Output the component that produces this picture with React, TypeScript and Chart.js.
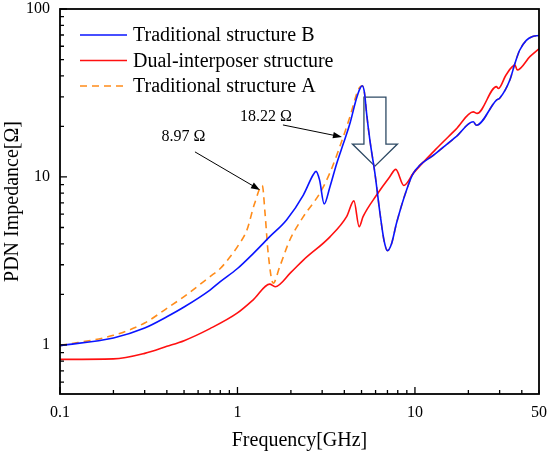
// @ts-nocheck
import React, { useEffect, useRef } from "react";
import Chart from "chart.js/auto";

const FONT = "'Liberation Serif', 'Times New Roman', serif";

// Traditional structure B
const blueFreq = [0.1, 0.2, 0.3, 0.4, 0.5, 0.7, 0.8, 1.0, 1.23, 1.52, 1.89, 2.35, 2.67, 2.77, 2.9, 3.08, 3.32, 3.62, 3.95, 4.3, 4.69, 4.9, 5.05, 5.2, 5.34, 5.57, 5.95, 6.35, 6.69, 7.0, 7.39, 7.87, 8.98, 9.78, 13, 17, 21.3, 22.2, 28.8, 30, 34.3, 36.6, 38.9, 42.4, 46, 50];
const blueImp = [0.99, 1.1, 1.26, 1.47, 1.68, 2.12, 2.38, 2.85, 3.51, 4.41, 5.55, 7.8, 10.3, 10.8, 9.6, 6.9, 8.75, 12.0, 15.8, 20.8, 29.5, 33.6, 34.9, 31.5, 23.9, 16.6, 10.5, 6.1, 4.2, 3.64, 4.02, 5.3, 8.4, 10.5, 13.7, 17.3, 21.3, 20.3, 28.7, 29.4, 37.9, 47.5, 56.8, 65, 68.5, 69.5];

// Dual-interposer structure
const redFreq = [0.1, 0.2, 0.3, 0.4, 0.5, 0.7, 1.0, 1.23, 1.52, 1.63, 2.0, 2.35, 3.32, 4.12, 4.53, 4.85, 5.1, 6.08, 7.2, 7.8, 8.66, 9.78, 13, 17, 21.3, 22.4, 28.8, 29.5, 32.6, 36.6, 37.7, 44.4, 50];
const redImp = [0.82, 0.825, 0.89, 0.98, 1.06, 1.25, 1.55, 1.86, 2.3, 2.22, 2.7, 3.2, 4.4, 5.8, 7.2, 5.06, 5.8, 7.8, 10.0, 11.1, 8.9, 10.5, 14.5, 19.2, 24.4, 23.9, 34.5, 33.6, 40.5, 46.3, 43.3, 52, 58];

// Traditional structure A (runs under B above ~5 GHz)
const orangeFreq = [0.1, 0.2, 0.3, 0.4, 0.5, 0.7, 0.8, 0.9, 1.0, 1.13, 1.25, 1.38, 1.43, 1.49, 1.59, 1.73, 1.97, 2.35, 2.91, 3.32, 3.95, 4.3, 4.79, 5.05, 5.2, 5.34, 5.57, 5.95, 6.35, 6.69, 7.0, 7.39, 7.87, 8.98, 9.78, 13, 17, 21.3, 22.2, 28.8, 30, 34.3, 36.6, 38.9, 42.4, 46, 50];
const orangeImp = [0.99, 1.14, 1.35, 1.65, 1.94, 2.55, 2.85, 3.3, 3.85, 4.83, 6.97, 8.9, 6.07, 3.5, 2.33, 2.92, 4.2, 5.8, 8.0, 10.6, 17.4, 22.8, 33, 34.9, 31.5, 23.9, 16.6, 10.5, 6.1, 4.2, 3.64, 4.02, 5.3, 8.4, 10.5, 13.7, 17.3, 21.3, 20.3, 28.7, 29.4, 37.9, 47.5, 56.8, 65, 68.5, 69.5];

const xTicks = [0.1, 0.2, 0.3, 0.4, 0.5, 0.6, 0.7, 0.8, 0.9, 1, 2, 3, 4, 5, 6, 7, 8, 9, 10, 20, 30, 40, 50];
const yTicks = [0.6, 0.7, 0.8, 0.9, 1, 2, 3, 4, 5, 6, 7, 8, 9, 10, 20, 30, 40, 50, 60, 70, 80, 90, 100];
const xLabels = [0.1, 1, 10, 50];
const yLabels = [1, 10, 100];

// annotations in data space: [freq, impedance]
const note1Text = "8.97 Ω";
const note1At = [0.496, 17.3];
const arrow1 = [[0.576, 14.1], [1.339, 8.37]];
const note2Text = "18.22 Ω";
const note2At = [1.447, 22.8];
const arrow2 = [[1.804, 20.4], [3.88, 17.3]];
const bigArrow = { freq: 5.95, top: 29.9, head: 15.7, tip: 11.6 };

const series = [
    { label: "Traditional structure B", color: "#0a14ff", dash: [], freq: blueFreq, imp: blueImp },
    { label: "Dual-interposer structure", color: "#ff1010", dash: [], freq: redFreq, imp: redImp },
    { label: "Traditional structure A", color: "#ff8c1a", dash: [7, 5], freq: orangeFreq, imp: orangeImp },
];

const isDecade = (v) => Math.abs(Math.log10(v) - Math.round(Math.log10(v))) < 1e-6;

const noPad = (s) => {
    s.paddingTop = 0;
    s.paddingBottom = 0;
    s.paddingLeft = 0;
    s.paddingRight = 0;
};

const framePlugin = {
    id: "frame",
    beforeDatasetsDraw(chart) {
        const { ctx, scales: { x, y } } = chart;
        const cx = x.getPixelForValue(bigArrow.freq);
        const top = y.getPixelForValue(bigArrow.top);
        const head = y.getPixelForValue(bigArrow.head);
        const tip = y.getPixelForValue(bigArrow.tip);
        ctx.save();
        ctx.strokeStyle = "#2e4a64";
        ctx.lineWidth = 1.3;
        ctx.beginPath();
        ctx.moveTo(cx - 11, top);
        ctx.lineTo(cx + 11, top);
        ctx.lineTo(cx + 11, head);
        ctx.lineTo(cx + 22.5, head);
        ctx.lineTo(cx, tip);
        ctx.lineTo(cx - 22.5, head);
        ctx.lineTo(cx - 11, head);
        ctx.closePath();
        ctx.stroke();
        ctx.restore();
    },
    afterDraw(chart) {
        const { ctx, chartArea: a, scales: { x, y } } = chart;
        ctx.save();
        // ticks pointing inward
        ctx.strokeStyle = "#000";
        ctx.lineWidth = 1.3;
        ctx.beginPath();
        xTicks.forEach((v) => {
            const px = x.getPixelForValue(v);
            const len = isDecade(v) ? 7 : 4;
            ctx.moveTo(px, a.bottom);
            ctx.lineTo(px, a.bottom - len);
        });
        yTicks.forEach((v) => {
            const py = y.getPixelForValue(v);
            const len = isDecade(v) ? 7 : 4;
            ctx.moveTo(a.left, py);
            ctx.lineTo(a.left + len, py);
        });
        ctx.stroke();
        // frame
        ctx.lineWidth = 1.8;
        ctx.strokeRect(a.left, a.top, a.right - a.left, a.bottom - a.top);

        // legend
        ctx.font = `20px ${FONT}`;
        ctx.textBaseline = "middle";
        ctx.textAlign = "left";
        series.forEach((s, i) => {
            const ly = a.top + 26 + i * 25.5;
            ctx.strokeStyle = s.color;
            ctx.lineWidth = 1.6;
            ctx.setLineDash(s.dash);
            ctx.beginPath();
            ctx.moveTo(a.left + 20, ly);
            ctx.lineTo(a.left + 67, ly);
            ctx.stroke();
            ctx.setLineDash([]);
            ctx.fillStyle = "#000";
            ctx.fillText(s.label, a.left + 73, ly + 1);
        });

        // annotations
        ctx.font = `16px ${FONT}`;
        ctx.textAlign = "center";
        ctx.fillText(note1Text, x.getPixelForValue(note1At[0]), y.getPixelForValue(note1At[1]));
        ctx.fillText(note2Text, x.getPixelForValue(note2At[0]), y.getPixelForValue(note2At[1]));
        [arrow1, arrow2].forEach(([from, to]) => {
            const x0 = x.getPixelForValue(from[0]);
            const y0 = y.getPixelForValue(from[1]);
            const x1 = x.getPixelForValue(to[0]);
            const y1 = y.getPixelForValue(to[1]);
            const ang = Math.atan2(y1 - y0, x1 - x0);
            ctx.strokeStyle = "#000";
            ctx.fillStyle = "#000";
            ctx.lineWidth = 1;
            ctx.beginPath();
            ctx.moveTo(x0, y0);
            ctx.lineTo(x1 - 6 * Math.cos(ang), y1 - 6 * Math.sin(ang));
            ctx.stroke();
            ctx.beginPath();
            ctx.moveTo(x1, y1);
            ctx.lineTo(x1 - 9 * Math.cos(ang) + 3.2 * Math.sin(ang), y1 - 9 * Math.sin(ang) - 3.2 * Math.cos(ang));
            ctx.lineTo(x1 - 9 * Math.cos(ang) - 3.2 * Math.sin(ang), y1 - 9 * Math.sin(ang) + 3.2 * Math.cos(ang));
            ctx.closePath();
            ctx.fill();
        });
        ctx.restore();
    },
};

const App: React.FC = () => {
    const canvasRef = useRef(null);

    useEffect(() => {
        if (!canvasRef.current) return;

        const chart = new Chart(canvasRef.current, {
            type: "line",
            data: {
                datasets: series.map((s) => ({
                    label: s.label,
                    data: s.freq.map((f, i) => ({ x: f, y: s.imp[i] })),
                    borderColor: s.color,
                    borderWidth: 1.6,
                    borderDash: s.dash,
                    pointRadius: 0,
                    fill: false,
                    cubicInterpolationMode: "monotone",
                })),
            },
            options: {
                animation: false,
                responsive: true,
                maintainAspectRatio: false,
                layout: { padding: { top: 9, right: 11, left: 0, bottom: 0 } },
                plugins: { legend: { display: false }, tooltip: { enabled: false } },
                scales: {
                    x: {
                        type: "logarithmic",
                        min: 0.1,
                        max: 50,
                        grid: { display: false, drawTicks: false },
                        border: { display: false },
                        afterBuildTicks: (s) => { s.ticks = xTicks.map((v) => ({ value: v })); },
                        afterFit: (s) => { s.height = 64; noPad(s); },
                        ticks: {
                            autoSkip: false,
                            maxRotation: 0,
                            padding: 9,
                            color: "#000",
                            font: { family: FONT, size: 16 },
                            callback: (v) => (xLabels.includes(v) ? String(v) : ""),
                        },
                        title: {
                            display: true,
                            text: "Frequency[GHz]",
                            color: "#000",
                            font: { family: FONT, size: 20 },
                            padding: { top: 0, bottom: 5 },
                        },
                    },
                    y: {
                        type: "logarithmic",
                        min: 0.51,
                        max: 100,
                        grid: { display: false, drawTicks: false },
                        border: { display: false },
                        afterBuildTicks: (s) => { s.ticks = yTicks.map((v) => ({ value: v })); },
                        afterFit: (s) => { s.width = 60; noPad(s); },
                        ticks: {
                            autoSkip: false,
                            padding: 10,
                            color: "#000",
                            font: { family: FONT, size: 16 },
                            callback: (v) => (yLabels.includes(v) ? String(v) : ""),
                        },
                        title: {
                            display: true,
                            text: "PDN Impedance[Ω]",
                            color: "#000",
                            font: { family: FONT, size: 20 },
                            padding: { top: 1, bottom: 0 },
                        },
                    },
                },
            },
            plugins: [framePlugin],
        });

        return () => chart.destroy();
    }, []);

    return (
        <div style={{ position: "absolute", left: 0, top: 0, width: 550, height: 458, background: "#fff" }}>
            <canvas ref={canvasRef} />
        </div>
    );
};

export default App;
